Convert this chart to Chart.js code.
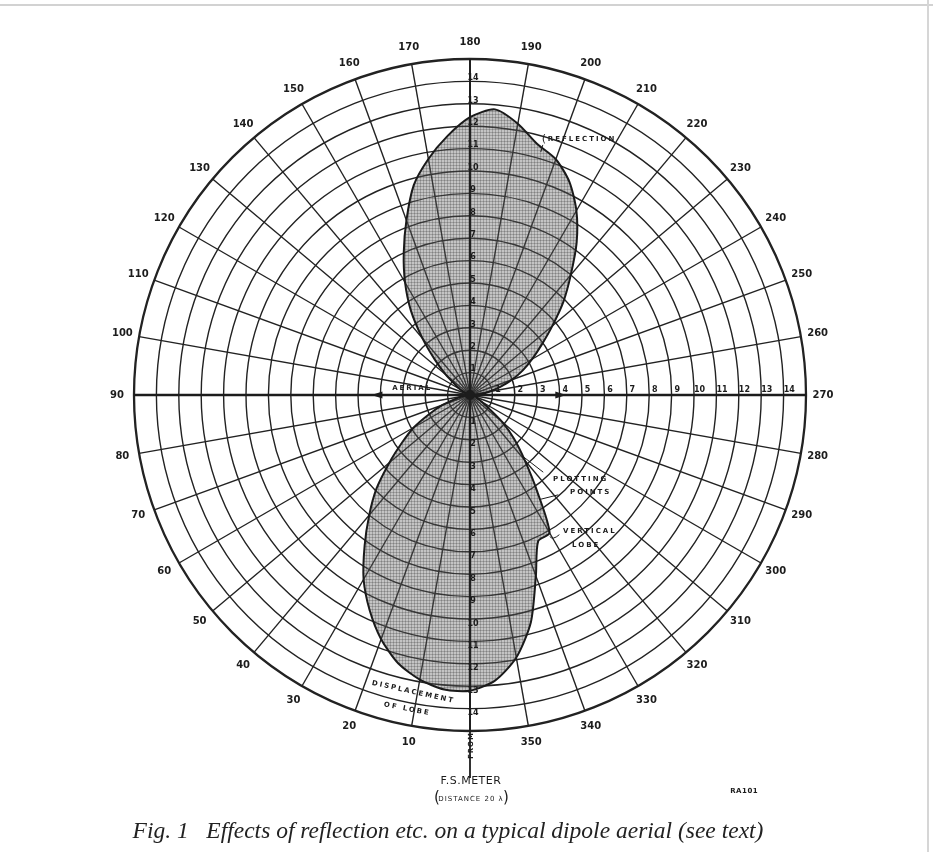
<!DOCTYPE html>
<html><head><meta charset="utf-8">
<script src="https://cdn.jsdelivr.net/npm/chart.js@4.4.1/dist/chart.umd.min.js"></script>
<style>
html,body{margin:0;padding:0;background:#fff;}
#wrap{position:relative;width:933px;height:852px;overflow:hidden;background:#fff;}
canvas{position:absolute;left:0;top:0;}
.edgeTop{position:absolute;left:0;top:4px;width:933px;height:0;border-top:2px solid #d2d2d2;}
.edgeRight{position:absolute;left:927px;top:0;width:0;height:852px;border-left:2px solid #d6d6d6;}
</style></head>
<body><div id="wrap"><canvas id="c" width="933" height="852"></canvas><div class="edgeTop"></div><div class="edgeRight"></div></div>
<script>
// Bearings (degrees), 5-degree steps, clockwise from the F.S. meter direction (bottom)
const bearings = [0,5,10,15,20,25,30,35,40,45,50,55,60,65,70,75,80,85,
  90,95,100,105,110,115,120,125,130,135,140,145,150,155,160,165,170,175,
  180,185,190,195,200,205,210,215,220,225,230,235,240,245,250,255,260,265,
  270,275,280,285,290,295,300,305,310,315,320,325,330,335,340,345,350,355];
// Relative field strength read at each bearing
const fieldStrength = [13.2,13.2,12.9,12.4,11.6,10.6,9.5,8.2,7.0,5.9,4.7,3.7,2.9,2.0,1.3,0.7,0.3,0.1,
  0,0,0.1,0.1,0.2,0.3,0.5,0.8,1.4,2.2,3.3,4.6,5.8,7.0,8.3,9.7,10.7,11.6,
  12.4,12.8,12.3,11.6,11.2,10.5,9.5,8.3,7.0,5.9,4.8,3.9,3.2,2.6,2.0,1.4,0.9,0.5,
  0.1,0.1,0.2,0.3,0.3,0.4,0.6,1.0,1.9,2.8,3.8,5.2,7.1,7.2,8.6,10.5,11.9,12.8];
// Printed bearing labels every 10 degrees (none at 0: F.S. meter line)
const bearingLabels = ['', '10','20','30','40','50','60','70','80','90','100','110','120','130','140','150','160','170',
  '180','190','200','210','220','230','240','250','260','270','280','290','300','310','320','330','340','350'];
// Ring tick labels
const ringTicks = ['1','2','3','4','5','6','7','8','9','10','11','12','13','14'];
const ringMax = 15;

const cv = document.getElementById('c');
const ctx0 = cv.getContext('2d');
function makeHatch(){
  const p = document.createElement('canvas'); p.width = 3; p.height = 3;
  const g = p.getContext('2d');
  g.fillStyle = 'rgba(100,100,100,0.38)'; g.fillRect(0,0,3,3);
  g.fillStyle = 'rgba(40,40,40,0.24)'; g.fillRect(0,0,3,1); g.fillRect(0,0,1,3);
  return ctx0.createPattern(p, 'repeat');
}

const idxOf = deg => deg / 5;
const overlay = {
  id: 'overlay',
  afterDatasetsDraw(chart){
    const s = chart.scales.r, ctx = chart.ctx;
    const P = (deg, v) => s.getPointPositionForValue(idxOf(deg), v);
    ctx.save();
    ctx.strokeStyle = '#1c1c1c'; ctx.fillStyle = '#1c1c1c';
    // heavy aerial axis 90-270
    ctx.lineWidth = 2.4;
    let a = P(90, ringMax), b = P(270, ringMax);
    ctx.beginPath(); ctx.moveTo(a.x, a.y); ctx.lineTo(b.x, b.y); ctx.stroke();
    // vertical line extended down to F.S. meter
    ctx.lineWidth = 1.8;
    a = P(180, ringMax); b = P(0, 17.1);
    ctx.beginPath(); ctx.moveTo(a.x, a.y); ctx.lineTo(b.x, b.y); ctx.stroke();
    // arrowheads on aerial axis
    const arrow = (deg, v, dir) => {
      const p = P(deg, v);
      ctx.beginPath(); ctx.moveTo(p.x, p.y);
      ctx.lineTo(p.x - dir*11, p.y - 3.5); ctx.lineTo(p.x - dir*11, p.y + 3.5); ctx.closePath(); ctx.fill();
    };
    arrow(90, 4.4, -1); arrow(270, 4.3, 1);
    // centre hub
    const c = P(0, 0);
    ctx.beginPath(); ctx.arc(c.x, c.y, 5, 0, Math.PI*2); ctx.fill();

    // bearing labels
    ctx.font = 'bold 10px "DejaVu Sans"';
    ctx.textAlign = 'center'; ctx.textBaseline = 'middle';
    bearingLabels.forEach((t, k) => {
      if (!t) return;
      const p = s.getPointPosition(2*k, s.drawingArea + 17);
      ctx.fillText(t, p.x, p.y);
    });
    // ring ticks along top, bottom and right radii
    ctx.font = 'bold 8px "DejaVu Sans"';
    ringTicks.forEach((t, i) => {
      const v = i + 1;
      let p = P(180, v + 0.15); ctx.fillText(t, p.x + 3, p.y);
      p = P(0, v + 0.2); ctx.fillText(t, p.x + 3, p.y);
      p = P(270, v + 0.25); ctx.fillText(t, p.x, p.y - 5);
    });

    // annotations
    ctx.font = 'bold 7px "DejaVu Sans"';
    ctx.letterSpacing = '2px';
    ctx.textAlign = 'left';
    let p = P(196.9, 11.95); ctx.fillText('REFLECTION', p.x, p.y);
    ctx.font = '11px "DejaVu Sans"'; ctx.fillText('(', p.x - 6, p.y);
    ctx.lineWidth = 1;
    ctx.beginPath(); ctx.moveTo(p.x - 5, p.y + 6); ctx.lineTo(p.x - 7, p.y + 13); ctx.stroke();
    ctx.font = 'bold 7px "DejaVu Sans"';
    p = P(315.3, 5.27); ctx.fillText('PLOTTING', p.x, p.y);
    p = P(314.1, 6.22); ctx.fillText('POINTS', p.x, p.y);
    a = P(319.5, 3.55); b = P(316.5, 4.75);
    ctx.beginPath(); ctx.moveTo(a.x, a.y); ctx.lineTo(b.x, b.y); ctx.stroke();
    a = P(326.5, 5.6); b = P(318.5, 5.95);
    ctx.beginPath(); ctx.moveTo(a.x, a.y); ctx.lineTo(b.x, b.y); ctx.stroke();
    p = P(325.6, 7.35); ctx.fillText('VERTICAL', p.x, p.y);
    p = P(325.8, 8.1); ctx.fillText('LOBE', p.x, p.y);
    a = P(330.6, 7.25); b = P(326.8, 7.45);
    ctx.beginPath(); ctx.moveTo(a.x, a.y); ctx.quadraticCurveTo(a.x + 3, a.y + 4, b.x - 2, b.y); ctx.stroke();
    p = P(96.9, 2.6); ctx.textAlign = 'center'; ctx.fillText('AERIAL', p.x, p.y);
    // displacement of lobe (tilted)
    p = P(10.8, 13.5);
    ctx.save(); ctx.translate(p.x, p.y); ctx.rotate(12.5*Math.PI/180); ctx.fillText('DISPLACEMENT', 0, 0); ctx.restore();
    p = P(11.3, 14.3);
    ctx.save(); ctx.translate(p.x, p.y); ctx.rotate(11*Math.PI/180); ctx.fillText('OF LOBE', 0, 0); ctx.restore();
    // small vertical word on meter line
    p = P(0, 15.65);
    ctx.save(); ctx.translate(p.x + 1, p.y); ctx.rotate(-Math.PI/2); ctx.font = 'bold 7px "DejaVu Sans"'; ctx.letterSpacing = '1px'; ctx.fillText('FROM', 0, 0); ctx.restore();
    ctx.letterSpacing = '0px';
    // F.S. meter caption
    ctx.textAlign = 'center';
    ctx.font = '11px "DejaVu Sans"'; ctx.letterSpacing = '0.5px';
    p = P(0, 17.15); ctx.fillText('F.S.METER', p.x + 1, p.y + 2);
    ctx.font = '7px "DejaVu Sans"'; ctx.letterSpacing = '1px';
    p = P(0, 17.95); ctx.fillText('DISTANCE 20 λ', p.x + 1, p.y + 2);
    ctx.font = '15px "DejaVu Sans"'; ctx.letterSpacing = '0px';
    ctx.fillText('(', p.x - 33, p.y + 1); ctx.fillText(')', p.x + 36, p.y + 1);
    ctx.font = 'bold 7px "DejaVu Sans"'; ctx.letterSpacing = '0.5px';
    p = P(325.3, 21.5); ctx.fillText('RA101', p.x, p.y);
    ctx.letterSpacing = '0px';
    // figure caption
    ctx.font = 'italic 23.5px "Liberation Serif"';
    ctx.fillStyle = '#222';
    ctx.fillText('Fig. 1   Effects of reflection etc. on a typical dipole aerial (see text)', s.xCenter - 22, s.yCenter + 437);
    ctx.restore();
  }
};

new Chart(cv, {
  type: 'radar',
  data: {
    labels: bearings.map(String),
    datasets: [{
      label: 'Field strength',
      data: fieldStrength,
      backgroundColor: makeHatch(),
      borderColor: '#1a1a1a',
      borderWidth: 2,
      pointRadius: 0,
      tension: 0.25,
      fill: true
    }]
  },
  options: {
    responsive: false,
    animation: false,
    devicePixelRatio: 1,
    layout: { padding: { left: 134, right: 127, top: 59, bottom: 121 } },
    plugins: { legend: { display: false }, tooltip: { enabled: false }, title: { display: false } },
    scales: {
      r: {
        startAngle: 180,
        min: 0, max: ringMax,
        ticks: { stepSize: 1, display: false },
        pointLabels: { display: false },
        grid: {
          circular: true,
          color: '#222',
          lineWidth: ctx => (ctx.tick && ctx.tick.value === ringMax) ? 2.3 : 1.4
        },
        angleLines: {
          color: '#222',
          lineWidth: ctx => (ctx.index % 2 === 0) ? ((ctx.index % 18 === 0) ? 1.7 : 1.4) : 0
        }
      }
    }
  },
  plugins: [overlay]
});
</script>
</body></html>
